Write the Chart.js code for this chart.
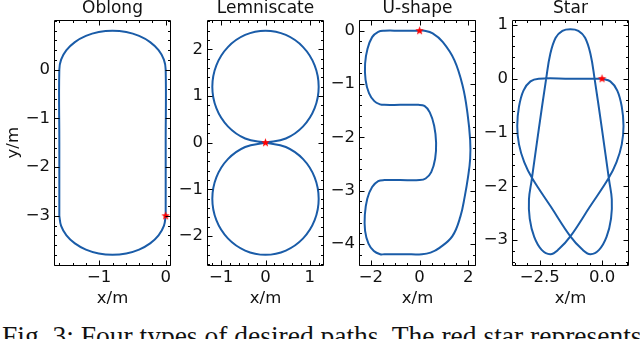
<!DOCTYPE html>
<html>
<head>
<meta charset="utf-8">
<script src="https://cdn.jsdelivr.net/npm/chart.js@4.4.0/dist/chart.umd.min.js"></script>
<style>
  html, body { margin: 0; padding: 0; background: #fff; }
  body { width: 640px; height: 339px; position: relative; overflow: hidden; }
  .panel { position: absolute; top: 0px; width: 177px; height: 310px; }
  #caption { position: absolute; left: 2px; top: 322px; font-family: 'Liberation Serif', serif; font-size: 27.5px; line-height: 27.5px; white-space: nowrap; color: #111; }
</style>
</head>
<body>
<div class="panel" style="left:0px"><canvas id="c0"></canvas></div>
<div class="panel" style="left:153px"><canvas id="c1"></canvas></div>
<div class="panel" style="left:305px"><canvas id="c2"></canvas></div>
<div class="panel" style="left:458px"><canvas id="c3"></canvas></div>
<div id="caption">Fig. 3: Four types of desired paths. The red star represents</div>
<script>
const titles = ['Oblong', 'Lemniscate', 'U-shape', 'Star'];

// paths (metres)
const oblongX = [0, 0, 0, -0.027, -0.107, -0.234, -0.4, -0.593, -0.8, -1.007, -1.2, -1.366, -1.493, -1.573, -1.6,
  -1.6, -1.6, -1.6, -1.573, -1.493, -1.366, -1.2, -1.007, -0.8, -0.593, -0.4, -0.234, -0.107, -0.027, 0];
const oblongY = [-3, -1.5, 0, 0.207, 0.4, 0.566, 0.693, 0.773, 0.8, 0.773, 0.693, 0.566, 0.4, 0.207, 0,
  -1.5, -3, -3, -3.207, -3.4, -3.566, -3.693, -3.773, -3.8, -3.773, -3.693, -3.566, -3.4, -3.207, -3];

const lemnX = [0, 0.459, 0.849, 1.109, 1.2, 1.109, 0.849, 0.459, 0, -0.459, -0.849, -1.109, -1.2, -1.109, -0.849, -0.459, 0,
  0.459, 0.849, 1.109, 1.2, 1.109, 0.849, 0.459, 0, -0.459, -0.849, -1.109, -1.2, -1.109, -0.849, -0.459, 0];
const lemnY = [0, 0.091, 0.351, 0.741, 1.2, 1.659, 2.049, 2.309, 2.4, 2.309, 2.049, 1.659, 1.2, 0.741, 0.351, 0.091, 0,
  -0.091, -0.351, -0.741, -1.2, -1.659, -2.049, -2.309, -2.4, -2.309, -2.049, -1.659, -1.2, -0.741, -0.351, -0.091, 0];

const uShapeX = [0, -0.8, -1.45, -1.7, -1.95, -2.14, -2.24, -2.22, -2.08, -1.86, -1.62, -1.45,
  -0.8, -0.05, 0.2, 0.42, 0.6, 0.68, 0.64, 0.48, 0.25, 0,
  -0.8, -1.45, -1.7, -1.95, -2.15, -2.25, -2.24, -2.1, -1.88, -1.62, -1.45,
  -0.6, 0.1, 0.45, 0.82, 1.35, 1.68, 1.86, 1.99, 2.08, 2.08, 1.97, 1.78, 1.43, 0.95, 0.54, 0.2, 0];
const uShapeY = [0, 0, 0, -0.02, -0.12, -0.34, -0.62, -0.92, -1.17, -1.32, -1.38, -1.39,
  -1.39, -1.39, -1.41, -1.53, -1.78, -2.1, -2.4, -2.65, -2.77, -2.8,
  -2.8, -2.8, -2.82, -2.93, -3.15, -3.45, -3.75, -3.99, -4.13, -4.19, -4.19,
  -4.19, -4.19, -4.16, -4.07, -3.85, -3.48, -3.1, -2.75, -2.4, -2.05, -1.55, -1.05, -0.55, -0.21, -0.05, 0, 0];

const starX = [0, -1.27, -2.54, -2.87, -3.15, -3.33, -3.4, -3.33, -3.12, -2.8, -2.05, -1.27,
  -0.8, -0.47, -0.12, 0.18, 0.36, 0.39, 0.28, 0, -0.3,
  -0.46, -0.68, -0.95, -1.27, -1.59, -1.86, -2.08, -2.24, -2.54, -2.82,
  -2.93, -2.9, -2.72, -2.42, -2.07, -1.74, -1.27, -0.49, 0.26,
  0.58, 0.79, 0.86, 0.79, 0.61, 0.33, 0];
const starY = [0, 0, 0, -0.05, -0.22, -0.52, -0.88, -1.22, -1.55, -1.85, -2.38, -2.93,
  -3.17, -3.26, -3.18, -2.94, -2.6, -2.24, -1.88, -0.95, 0,
  0.45, 0.76, 0.89, 0.92, 0.89, 0.76, 0.45, 0, -0.95, -1.88,
  -2.24, -2.6, -2.94, -3.18, -3.26, -3.17, -2.93, -2.38, -1.85,
  -1.55, -1.22, -0.88, -0.52, -0.22, -0.05, 0];

// starting points (red stars)
const startX = [0, 0, 0, 0];
const startY = [-3, 0, 0, 0];

// tick labels
const oblongXTicks = [-1, 0];
const oblongYTicks = [-3, -2, -1, 0];
const lemnXTicks = [-1, 0, 1];
const lemnYTicks = [-2, -1, 0, 1, 2];
const uShapeXTicks = [-2, 0, 2];
const uShapeYTicks = [-4, -3, -2, -1, 0];
const starXTicks = [-2.5, 0];
const starYTicks = [-3, -2, -1, 0, 1];

const panels = [
  { xs: oblongX, ys: oblongY, xr: [-1.68, 0.08], yr: [-4.03, 1.03], xt: oblongXTicks, yt: oblongYTicks, xm: 0.2, ym: 0.2, dec: 0 },
  { xs: lemnX, ys: lemnY, xr: [-1.32, 1.32], yr: [-2.64, 2.64], xt: lemnXTicks, yt: lemnYTicks, xm: 0.2, ym: 0.2, dec: 0 },
  { xs: uShapeX, ys: uShapeY, xr: [-2.49, 2.32], yr: [-4.41, 0.21], xt: uShapeXTicks, yt: uShapeYTicks, xm: 0.5, ym: 0.2, dec: 0 },
  { xs: starX, ys: starY, xr: [-3.61, 1.08], yr: [-3.48, 1.1], xt: starXTicks, yt: starYTicks, xm: 0.5, ym: 0.2, dec: 1 }
];

const LINE = '#1a5ca8';
const FONT = { family: "'DejaVu Sans', sans-serif", size: 16.5 };

Chart.defaults.color = '#111';
Chart.defaults.font.family = FONT.family;
Chart.defaults.font.size = FONT.size;

function fmt(v, dec) {
  const s = Math.abs(v).toFixed(dec);
  return (v < 0 ? '\u2212' : '') + s;
}

function makeStar(r) {
  const s = Math.ceil(r * 2 + 2);
  const c = document.createElement('canvas');
  c.width = s; c.height = s;
  const g = c.getContext('2d');
  g.fillStyle = '#ff0000';
  g.beginPath();
  for (let i = 0; i < 10; i++) {
    const rr = i % 2 ? r * 0.42 : r;
    const t = -Math.PI / 2 + i * Math.PI / 5;
    g.lineTo(s / 2 + rr * Math.cos(t), s / 2 + rr * Math.sin(t));
  }
  g.closePath();
  g.fill();
  return c;
}
const starImg = makeStar(4.5);

// matplotlib-like frame with inward major/minor ticks on all sides
const frameTicks = {
  id: 'frameTicks',
  afterDatasetsDraw(chart, args, opts) {
    const { ctx, chartArea: a, scales: { x, y } } = chart;
    const L = Math.round(a.left) + 0.5, R = Math.round(a.right) - 0.5;
    const T = Math.round(a.top) + 0.5, B = Math.round(a.bottom) - 0.5;
    ctx.save();
    ctx.strokeStyle = '#000';
    ctx.lineWidth = 1;
    ctx.beginPath();
    ctx.rect(L, T, R - L, B - T);
    const marks = (scale, step, major) => {
      const out = [];
      for (let k = Math.ceil(scale.min / step - 1e-9); k * step <= scale.max + 1e-9; k++) {
        const v = k * step;
        const isMajor = major.some(m => Math.abs(m - v) < 1e-6);
        if (!isMajor) out.push([v, 2.5]);
      }
      major.forEach(m => out.push([m, 5]));
      return out;
    };
    marks(x, opts.xm, opts.xt).forEach(([v, len]) => {
      const p = Math.round(x.getPixelForValue(v)) + 0.5;
      ctx.moveTo(p, B); ctx.lineTo(p, B - len);
      ctx.moveTo(p, T); ctx.lineTo(p, T + len);
    });
    marks(y, opts.ym, opts.yt).forEach(([v, len]) => {
      const p = Math.round(y.getPixelForValue(v)) + 0.5;
      ctx.moveTo(L, p); ctx.lineTo(L + len, p);
      ctx.moveTo(R, p); ctx.lineTo(R - len, p);
    });
    ctx.stroke();
    ctx.restore();
  }
};

panels.forEach((p, i) => {
  const pts = p.xs.map((v, j) => ({ x: v, y: p.ys[j] }));
  new Chart(document.getElementById('c' + i), {
    type: 'scatter',
    data: {
      datasets: [
        {
          data: [{ x: startX[i], y: startY[i] }],
          pointStyle: starImg,
          pointRadius: 5,
          order: 0
        },
        {
          data: pts,
          showLine: true,
          borderColor: LINE,
          borderWidth: 2,
          pointRadius: 0,
          tension: 0.4,
          order: 1
        }
      ]
    },
    options: {
      responsive: true,
      maintainAspectRatio: false,
      animation: false,
      devicePixelRatio: 1,
      layout: { padding: { left: 0, right: 5, top: 0, bottom: 0 } },
      plugins: {
        legend: { display: false },
        tooltip: { enabled: false },
        title: {
          display: true,
          fullSize: false,
          text: titles[i],
          color: '#111',
          font: { size: 17, weight: 'normal', lineHeight: 1 },
          padding: { top: 0, bottom: 2.5 }
        },
        frameTicks: { xm: p.xm, ym: p.ym, xt: p.xt, yt: p.yt }
      },
      scales: {
        x: {
          type: 'linear',
          min: p.xr[0],
          max: p.xr[1],
          grid: { display: false, drawTicks: false },
          border: { display: false },
          afterBuildTicks: s => { s.ticks = p.xt.map(v => ({ value: v })); },
          afterFit: s => { s.height = 44; },
          ticks: { padding: 1.5, maxRotation: 0, callback: v => fmt(v, p.dec) },
          title: { display: true, text: 'x/m', padding: { top: 0, bottom: 1.1 } }
        },
        y: {
          type: 'linear',
          min: p.yr[0],
          max: p.yr[1],
          grid: { display: false, drawTicks: false },
          border: { display: false },
          afterBuildTicks: s => { s.ticks = p.yt.map(v => ({ value: v })); },
          afterFit: s => { s.width = 54; },
          ticks: { padding: 4, callback: v => fmt(v, 0) },
          title: { display: i === 0, text: 'y/m', padding: { top: 4.1, bottom: 0 } }
        }
      }
    },
    plugins: [frameTicks]
  });
});
</script>
</body>
</html>
